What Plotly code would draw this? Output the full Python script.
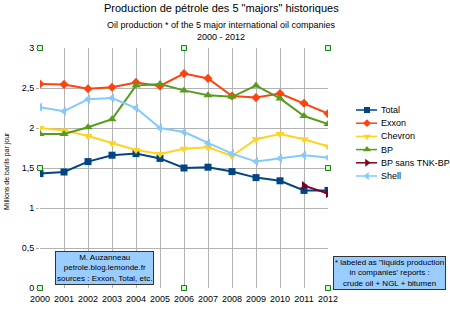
import plotly.graph_objects as go

years = list(range(2000, 2013))
total = [1.43, 1.45, 1.58, 1.66, 1.68, 1.62, 1.50, 1.51, 1.455, 1.38, 1.34, 1.22, 1.22]
exxon = [2.55, 2.545, 2.49, 2.51, 2.57, 2.525, 2.68, 2.62, 2.40, 2.38, 2.43, 2.31, 2.18]
chevron = [2.00, 1.97, 1.90, 1.81, 1.725, 1.675, 1.74, 1.76, 1.65, 1.86, 1.925, 1.86, 1.77]
bp = [1.925, 1.925, 2.01, 2.11, 2.53, 2.55, 2.47, 2.41, 2.39, 2.53, 2.37, 2.15, 2.05]
bp_sans_years = [2011, 2012]
bp_sans = [1.28, 1.18]
shell = [2.26, 2.21, 2.36, 2.375, 2.25, 2.00, 1.95, 1.81, 1.68, 1.58, 1.62, 1.66, 1.63]

y_ticks = [0, 0.5, 1, 1.5, 2, 2.5, 3]
y_ticktext = ["0", "0,5", "1", "1,5", "2", "2,5", "3"]

handle_x = [2000, 2006, 2012, 2000, 2012, 2000, 2006, 2012]
handle_y = [3, 3, 3, 1.5, 1.5, 0, 0, 0]

series = [
    ("Total", years, total, "#004586", "square", 7),
    ("Exxon", years, exxon, "#ff420e", "diamond", 7),
    ("Chevron", years, chevron, "#ffd320", "triangle-down", 8),
    ("BP", years, bp, "#579d1c", "triangle-up", 8),
    ("BP sans TNK-BP", bp_sans_years, bp_sans, "#7e0021", "triangle-right", 8),
    ("Shell", years, shell, "#83caff", "triangle-left", 8),
]

FONT = "Liberation Sans, Arial, sans-serif"
W, H = 450, 310
L, R, T, B = 40, 2, 48, 22
PW = W - L - R          # full plotting width (pixels)
PLOT_RIGHT = 328        # pixel x of the data area's right edge

fig = go.Figure()
for name, xs, ys, col, sym, sz in series:
    fig.add_trace(go.Scatter(x=xs, y=ys, name=name, mode="lines+markers",
                             line=dict(color=col, width=2),
                             marker=dict(symbol=sym, size=sz, color=col),
                             showlegend=False))

fig.add_trace(go.Scatter(x=handle_x, y=handle_y, mode="markers", showlegend=False,
                         hoverinfo="skip", cliponaxis=False,
                         marker=dict(symbol="square", size=5, color="#ccffcc",
                                     line=dict(color="#1a7a1a", width=1))))

# custom compact legend drawn on an overlay axis measured in pixels
leg_top = 110
leg_step = 13.2
for i, (name, xs, ys, col, sym, sz) in enumerate(series):
    yp = leg_top + i * leg_step
    fig.add_trace(go.Scatter(x=[356, 377], y=[yp, yp], xaxis="x2", yaxis="y2",
                             mode="lines", line=dict(color=col, width=1.5),
                             showlegend=False, hoverinfo="skip"))
    fig.add_trace(go.Scatter(x=[367], y=[yp], xaxis="x2", yaxis="y2",
                             mode="markers", marker=dict(symbol=sym, size=sz - 1, color=col),
                             showlegend=False, hoverinfo="skip"))
    fig.add_annotation(xref="x2", yref="y2", x=379, y=yp, text=name,
                       xanchor="left", yanchor="middle", showarrow=False,
                       font=dict(size=9))

fig.update_layout(
    width=W, height=H,
    margin=dict(l=L, r=R, t=T, b=B, autoexpand=False),
    paper_bgcolor="white", plot_bgcolor="rgba(0,0,0,0)",
    font=dict(family=FONT, size=9, color="#000000"),
    showlegend=False,
    xaxis=dict(domain=[0, (PLOT_RIGHT - L) / PW], range=[2000, 2012],
               tickmode="array", tickvals=years,
               ticktext=[str(y) for y in years], showgrid=True,
               gridcolor="#b3b3b3", gridwidth=1, zeroline=False,
               showline=False, ticks="", tickfont=dict(size=9),
               ticklabelstandoff=4, automargin=False),
    yaxis=dict(range=[0, 3], tickmode="array", tickvals=y_ticks,
               ticktext=y_ticktext, showgrid=True, gridcolor="#b3b3b3",
               zeroline=False, showline=False, ticks="outside", ticklen=3,
               tickcolor="#b3b3b3", tickfont=dict(size=9), automargin=False),
    xaxis2=dict(domain=[0, 1], range=[L, W - R], visible=False, fixedrange=True),
    yaxis2=dict(domain=[0, 1], range=[H - B, T], visible=False, fixedrange=True,
                anchor="x2", overlaying="y"),
)
fig.update_layout(xaxis2_anchor="y2")

def px_x(p):
    return (p - L) / PW

def px_y(p):
    return (H - B - p) / (H - T - B)

fig.add_annotation(xref="paper", yref="paper", x=px_x(221), y=px_y(8),
                   xanchor="center", yanchor="middle",
                   text="Production de pétrole des 5 \"majors\" historiques",
                   showarrow=False, font=dict(size=11))
fig.add_annotation(xref="paper", yref="paper", x=px_x(221), y=px_y(31),
                   xanchor="center", yanchor="middle",
                   text="Oil production * of the 5 major international oil companies<br>2000 - 2012",
                   showarrow=False, font=dict(size=9))
fig.add_annotation(xref="paper", yref="paper", x=px_x(7), y=px_y(171),
                   xanchor="center", yanchor="middle", textangle=-90,
                   text="Millions de barils par jour",
                   showarrow=False, font=dict(size=7))
fig.add_annotation(xref="paper", yref="paper", x=px_x(104.5), y=px_y(267.5),
                   xanchor="center", yanchor="middle",
                   text="M. Auzanneau<br>petrole.blog.lemonde.fr<br>sources : Exxon, Total, etc.",
                   showarrow=False, font=dict(size=8), bgcolor="#99ccff",
                   bordercolor="#333333", borderwidth=1, borderpad=1)
fig.add_annotation(xref="paper", yref="paper", x=px_x(389.5), y=px_y(273),
                   xanchor="center", yanchor="middle",
                   text="* labeled as \"liquids production<br>in companies' reports :<br>crude oil + NGL + bitumen",
                   showarrow=False, font=dict(size=8), bgcolor="#99ccff",
                   bordercolor="#333333", borderwidth=1, borderpad=1)

fig.write_html("out.html")
